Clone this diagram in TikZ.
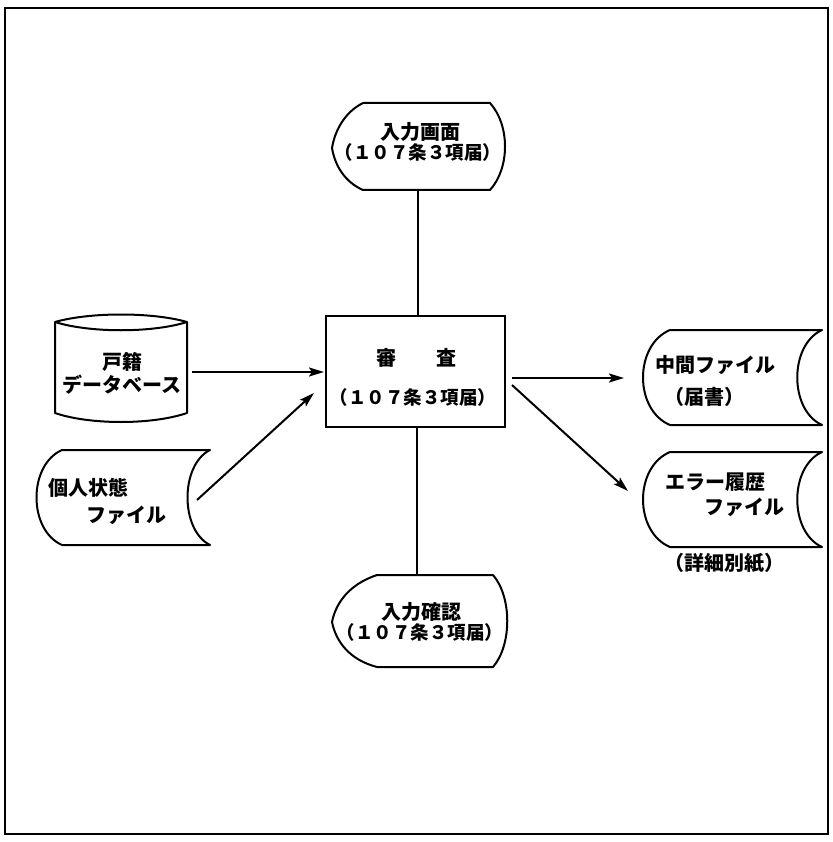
\documentclass[tikz,border=0pt]{standalone}
\usepackage{fontspec}
\setmainfont{Noto Sans CJK JP}
\usetikzlibrary{arrows.meta}
\tikzset{
  outline/.style={line width=2pt, line join=round},
  conn/.style={line width=2pt},
  arr/.style={line width=2pt, -{Stealth[length=15pt,width=9pt,inset=3pt]}},
  lbl/.style={inner sep=0pt, font=\fontsize{20}{22}\selectfont\bfseries},
  plbl/.style={inner sep=0pt, font=\fontsize{18.5}{20}\selectfont\bfseries},
}
\begin{document}
\begin{tikzpicture}[x=1pt,y=-1pt]
\useasboundingbox (0,0) rectangle (832,842);
% frame
\draw[line width=1.8pt] (5,8) rectangle (828,834);

% top display
\draw[outline] (363,103) -- (490,103) .. controls (510,125) and (510,168) .. (490,190)
  -- (363,190) .. controls (345,182) and (335,166) .. (332,148)
  .. controls (335,130) and (345,112) .. (363,103) -- cycle;
\node[lbl] (in1a) at (420,132) {入力画面};
\node[plbl] (in1b) at (418,152) {（１０７条３項届）};
\coordinate (dispTopS) at (418,190);

% bottom display
\draw[outline] (377,575) -- (493,575) .. controls (512,597) and (512,645) .. (493,667)
  -- (377,667) .. controls (350,660) and (336,642) .. (332,622)
  .. controls (336,602) and (350,584) .. (377,575) -- cycle;
\node[lbl] (in2a) at (421,612) {入力確認};
\node[plbl] (in2b) at (420,632) {（１０７条３項届）};
\coordinate (dispBotN) at (417,575);

% central process box
\node[draw, line width=2pt, minimum width=179pt, minimum height=111pt, inner sep=0pt]
  (audit) at (415.5,371.5) {};
\node[lbl] (auditA) at (416,358) {審　　査};
\node[plbl] (auditB) at (413,397) {（１０７条３項届）};
\coordinate (auditN) at (418,316);
\coordinate (auditS) at (417,427);
\coordinate (auditW1) at (324,372);
\coordinate (auditW2) at (314,393);
\coordinate (auditE1) at (512,378);
\coordinate (auditE2) at (512,385);

% database cylinder
\draw[outline] (55,322) -- (55,413) .. controls (90,425) and (152,425) .. (187,413)
  -- (187,322) .. controls (152,312) and (90,312) .. (55,322) -- cycle;
\draw[outline] (55,322) .. controls (90,333) and (152,333) .. (187,322);
\node[lbl] (dbA) at (122,362) {戸籍};
\node[lbl] (dbB) at (122,385) {データベース};
\coordinate (dbE) at (192,372);

% personal state file
\draw[outline] (62,450) -- (210,450) .. controls (180,465) and (180,530) .. (210,545)
  -- (62,545) .. controls (28,530) and (28,465) .. (62,450) -- cycle;
\node[lbl] (psA) at (88,488) {個人状態};
\node[lbl] (psB) at (126,515) {ファイル};
\coordinate (psE) at (197,500);

% intermediate file
\draw[outline] (670,330) -- (822,330) .. controls (789,345) and (789,410) .. (822,425)
  -- (670,425) .. controls (634,410) and (634,345) .. (670,330) -- cycle;
\node[lbl] (midA) at (715,365) {中間ファイル};
\node[lbl] (midB) at (704,397) {（届書）};
\coordinate (midW) at (624,378);

% error history file
\draw[outline] (670,452) -- (822,452) .. controls (789,467) and (789,532) .. (822,547)
  -- (670,547) .. controls (634,532) and (634,467) .. (670,452) -- cycle;
\node[lbl] (errA) at (715,482) {エラー履歴};
\node[lbl] (errB) at (744,507) {ファイル};
\node[lbl] (errC) at (724,563) {（詳細別紙）};
\coordinate (errW) at (628,491);

% connectors
\draw[conn] (dispTopS) -- (auditN);
\draw[conn] (auditS) -- (dispBotN);
\draw[arr] (dbE) -- (auditW1);
\draw[arr] (psE) -- (auditW2);
\draw[arr] (auditE1) -- (midW);
\draw[arr] (auditE2) -- (errW);
\end{tikzpicture}
\end{document}
